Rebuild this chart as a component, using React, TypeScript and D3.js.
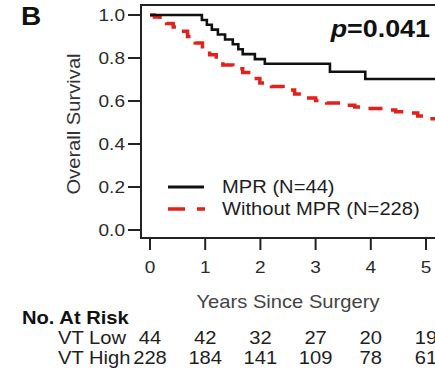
import React from "react";
import * as d3 from "d3";

// Kaplan–Meier step data (years, survival proportion)
const mprTimes = [0, 0.94, 1.03, 1.12, 1.23, 1.36, 1.5, 1.6, 1.68, 1.9, 2.08, 3.26, 3.9, 5.3];
const mprSurv = [1.0, 0.977, 0.955, 0.932, 0.909, 0.886, 0.864, 0.841, 0.818, 0.795, 0.773, 0.736, 0.702, 0.702];

const noMprTimes = [0, 0.08, 0.18, 0.3, 0.42, 0.55, 0.68, 0.82, 0.95, 1.08, 1.2, 1.32, 1.5, 1.68, 1.85, 1.99, 2.2, 2.41, 2.62, 2.84, 3.0, 3.2, 3.45, 3.71, 3.95, 4.22, 4.45, 4.66, 4.85, 5.0, 5.3];
const noMprSurv = [1.0, 0.991, 0.978, 0.96, 0.944, 0.925, 0.9, 0.87, 0.843, 0.815, 0.79, 0.768, 0.75, 0.732, 0.705, 0.684, 0.667, 0.651, 0.632, 0.614, 0.602, 0.591, 0.58, 0.572, 0.565, 0.558, 0.55, 0.544, 0.53, 0.518, 0.518];

const xTicks = [0, 1, 2, 3, 4, 5];
const yTicks = [0.0, 0.2, 0.4, 0.6, 0.8, 1.0];

const atRiskLow = [44, 42, 32, 27, 20, 19];
const atRiskHigh = [228, 184, 141, 109, 78, 61];

const seriesLabels = ["MPR (N=44)", "Without MPR (N=228)"];
const riskLabels = ["VT Low", "VT High"];

const W = 435;
const H = 375;
const FONT = "'Liberation Sans', Arial, sans-serif";
const SX = 1.12; // horizontal stretch of the lettering

type TProps = {
  x: number;
  y: number;
  size: number;
  anchor?: "start" | "middle" | "end";
  weight?: string;
  fill?: string;
  dy?: string;
  rotate?: number;
  children: React.ReactNode;
};

// Text drawn with a slight horizontal stretch around its anchor point
function T({ x, y, size, anchor = "start", weight = "normal", fill = "#1e1e1e", dy, rotate = 0, children }: TProps) {
  const tf = rotate
    ? `translate(${x},${y}) rotate(${rotate}) scale(${SX},1)`
    : `translate(${x},${y}) scale(${SX},1)`;
  return (
    <g transform={tf}>
      <text x={0} y={0} dy={dy} textAnchor={anchor} fontSize={size} fontWeight={weight} fill={fill}>
        {children}
      </text>
    </g>
  );
}

export default function App() {
  const x = d3.scaleLinear().domain([0, 5]).range([150, 426]);
  const y = d3.scaleLinear().domain([0, 1]).range([230, 15]);

  const frame = { left: 141, top: 5, bottom: 238, right: 460 };

  const line = d3
    .line<[number, number]>()
    .x((d) => x(d[0]))
    .y((d) => y(d[1]))
    .curve(d3.curveStepAfter);

  const mprPath = line(mprTimes.map((t, i) => [t, mprSurv[i]]) as [number, number][]) || "";
  const noMprPath = line(noMprTimes.map((t, i) => [t, noMprSurv[i]]) as [number, number][]) || "";

  return (
    <svg
      width={W}
      height={H}
      style={{ position: "absolute", left: 0, top: 0, background: "#fff" }}
      fontFamily={FONT}
    >
      <defs>
        <clipPath id="plotClip">
          <rect x={frame.left} y={frame.top} width={W - frame.left} height={frame.bottom - frame.top} />
        </clipPath>
      </defs>

      {/* Panel letter */}
      <T x={21} y={25} size={25} weight="bold" fill="#111">B</T>

      {/* Frame */}
      <path
        d={`M${frame.right},${frame.top}H${frame.left}V${frame.bottom}H${frame.right}`}
        fill="none"
        stroke="#222"
        strokeWidth={2}
      />

      {/* Y axis ticks and labels */}
      {yTicks.map((v) => (
        <g key={v}>
          <line x1={128} x2={frame.left} y1={y(v)} y2={y(v)} stroke="#222" strokeWidth={2} />
          <T x={125} y={y(v)} dy="0.36em" anchor="end" size={17} fill="#2a2a2a">
            {v.toFixed(1)}
          </T>
        </g>
      ))}

      {/* X axis ticks and labels */}
      {xTicks.map((v) => (
        <g key={v}>
          <line x1={x(v)} x2={x(v)} y1={frame.bottom} y2={frame.bottom + 12} stroke="#222" strokeWidth={2} />
          <T x={x(v)} y={273} anchor="middle" size={17} fill="#2a2a2a">
            {v}
          </T>
        </g>
      ))}

      {/* Axis titles */}
      <T x={80} y={124} rotate={-90} anchor="middle" size={18} fill="#333">
        Overall Survival
      </T>
      <T x={288} y={308} anchor="middle" size={18} fill="#444">
        Years Since Surgery
      </T>

      {/* Survival curves */}
      <g clipPath="url(#plotClip)">
        <path d={noMprPath} fill="none" stroke="#e3201b" strokeWidth={3.5} strokeDasharray="14 10" />
        <path d={mprPath} fill="none" stroke="#111" strokeWidth={2.6} />
      </g>

      {/* p-value */}
      <T x={430} y={37} anchor="end" size={24} weight="bold" fill="#111">
        <tspan fontStyle="italic">p</tspan>=0.041
      </T>

      {/* Legend */}
      <line x1={168} x2={204} y1={187} y2={187} stroke="#111" strokeWidth={3} />
      <line x1={168} x2={205} y1={209} y2={209} stroke="#e3201b" strokeWidth={3.5} strokeDasharray="17 12" />
      <T x={222} y={187} dy="0.36em" size={18}>{seriesLabels[0]}</T>
      <T x={222} y={209} dy="0.36em" size={18}>{seriesLabels[1]}</T>

      {/* Number at risk table */}
      <T x={22} y={324} size={18} weight="bold" fill="#111">No. At Risk</T>
      <T x={58} y={344} size={18}>{riskLabels[0]}</T>
      <T x={58} y={364} size={18}>{riskLabels[1]}</T>
      {atRiskLow.map((n, i) => (
        <T key={`l${i}`} x={x(xTicks[i])} y={344} anchor="middle" size={18}>
          {n}
        </T>
      ))}
      {atRiskHigh.map((n, i) => (
        <T key={`h${i}`} x={x(xTicks[i])} y={364} anchor="middle" size={18}>
          {n}
        </T>
      ))}
    </svg>
  );
}
